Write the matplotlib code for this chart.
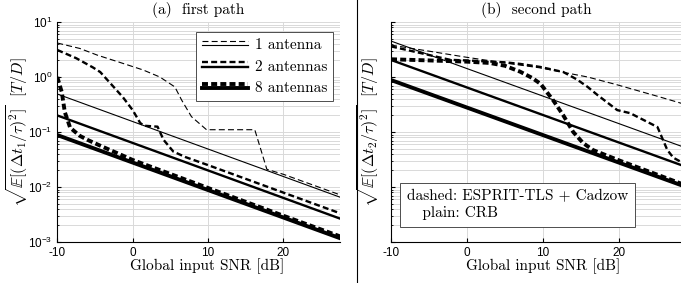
import matplotlib
matplotlib.use('Agg')
import numpy as np
from matplotlib import pyplot as plt
from matplotlib.lines import Line2D
from matplotlib.legend_handler import HandlerBase

plt.rcParams['font.family'] = ['Liberation Sans', 'DejaVu Sans']
plt.rcParams['mathtext.fontset'] = 'cm'
plt.rcParams['axes.unicode_minus'] = False
plt.rcParams['lines.scale_dashes'] = False

# ---- data ----
snr_crb = [-10, 30]

# (a) first path
crb1_a = [0.49, 0.0049]
crb2_a = [0.20, 0.0020]
crb8_a = [0.088, 0.00088]

snr_d1_a = [-10, -7, -4.7, -2, 1.4, 3.6, 5.6, 6.5, 7.8, 9.8, 16.2, 17.8, 20, 25, 30]
esp1_a = [4.15, 3.3, 2.5, 1.9, 1.34, 1.0, 0.66, 0.38, 0.19, 0.11, 0.11, 0.021,
          0.017, 0.0096, 0.0054]
snr_d2_a = [-10, -7.5, -5.3, -4.3, -1.3, 0, 1, 1.5, 3.3, 4.1, 5.4, 7, 10, 20, 30]
esp2_a = [3.1, 2.2, 1.5, 1.23, 0.43, 0.25, 0.146, 0.13, 0.125, 0.072, 0.044,
          0.035, 0.025, 0.0079, 0.0025]
snr_d8_a = [-10, -9.4, -9, -8.6, -8.3, -7, -6, -4, -2, 0, 10, 20, 30]
esp8_a = [1.0, 0.53, 0.23, 0.16, 0.12, 0.085, 0.072, 0.054, 0.041, 0.031,
          0.0096, 0.0030, 0.00095]

# (b) second path
crb1_b = [4.5, 0.045]
crb2_b = [2.04, 0.0204]
crb8_b = [0.88, 0.0088]

snr_d1_b = [-10, -5, -0.2, 5, 9.7, 15.9, 19.8, 25, 27.7, 30]
esp1_b = [3.8, 2.95, 2.3, 1.8, 1.46, 1.0, 0.72, 0.45, 0.35, 0.28]
snr_d2_b = [-10, -6, -2.2, 0, 5, 7, 9.7, 12.7, 14.5, 15.9, 17.2, 19.8, 21.5,
            25.1, 26.4, 27.2, 30]
esp2_b = [3.6, 2.7, 2.05, 2.0, 1.85, 1.73, 1.52, 1.23, 0.9, 0.66, 0.47, 0.25,
          0.22, 0.123, 0.047, 0.034, 0.021]
snr_d8_b = [-10, -5, 0, 3, 5, 7, 8.6, 9.7, 11.4, 12.7, 14, 15.3, 16.6, 20, 25, 30]
esp8_b = [2.1, 2.0, 1.9, 1.8, 1.6, 1.25, 0.96, 0.75, 0.37, 0.2, 0.1, 0.063,
          0.047, 0.0306, 0.0169, 0.0093]

widths = [0.8, 1.7, 2.8]
labels = ['1 antenna', '2 antennas', '8 antennas']
DASH = (4.3, 2.3)
CM = 'cmr10'
FS = 11


class StackHandler(HandlerBase):
    # dashed sample on top, plain sample below
    def create_artists(self, legend, orig_handle, xdescent, ydescent,
                       width, height, fontsize, trans):
        lw = orig_handle
        x = [-xdescent, -xdescent + width]
        top = Line2D(x, [height * 0.62] * 2, color='k', lw=lw, dashes=DASH)
        bot = Line2D(x, [height * 0.28] * 2, color='k', lw=lw)
        top.set_transform(trans)
        bot.set_transform(trans)
        return [top, bot]


def style_axes(ax, xmax):
    ax.set_yscale('log')
    ax.set_xlim(-10, xmax)
    ax.set_ylim(1e-3, 10)
    ax.set_xticks([-10, 0, 10, 20])
    ax.grid(True, which='major', color='0.85', lw=0.7)
    ax.grid(True, which='minor', axis='y', color='0.85', lw=0.7)
    ax.tick_params(which='both', direction='in', labelsize=8.5, length=3)
    ax.tick_params(which='minor', length=1.5)
    for s in ['top', 'right']:
        ax.spines[s].set_visible(False)
    ax.set_axisbelow(True)
    ax.set_xlabel('Global input SNR [dB]', fontfamily=CM, fontsize=FS)


fig = plt.figure(figsize=(6.81, 2.83), dpi=100)
axA = fig.add_axes([0.0841, 0.1449, 0.4151, 0.7774])
axB = fig.add_axes([0.5742, 0.1449, 0.4258, 0.7774])

for ax, xmax, crbs, dashed in [
        (axA, 27.5, [crb1_a, crb2_a, crb8_a],
         [(snr_d1_a, esp1_a), (snr_d2_a, esp2_a), (snr_d8_a, esp8_a)]),
        (axB, 28.2, [crb1_b, crb2_b, crb8_b],
         [(snr_d1_b, esp1_b), (snr_d2_b, esp2_b), (snr_d8_b, esp8_b)])]:
    style_axes(ax, xmax)
    for lw, crb, (sx, sy) in zip(widths, crbs, dashed):
        ax.plot(snr_crb, crb, color='k', lw=lw)
        ax.plot(sx, sy, color='k', lw=lw, dashes=DASH)

axA.set_title('(a)  first path', fontfamily=CM, fontsize=FS, pad=5.5)
axB.set_title('(b)  second path', fontfamily=CM, fontsize=FS, pad=5.5)
axA.set_ylabel(r'$\sqrt{\mathbb{E}[(\Delta t_1/\tau)^2]}\ \ [T/D]$', fontsize=11.5)
axB.set_ylabel(r'$\sqrt{\mathbb{E}[(\Delta t_2/\tau)^2]}\ \ [T/D]$', fontsize=11.5)
axB.tick_params(axis='y', which='both', labelleft=False)
axA.yaxis.set_label_coords(-0.097, 0.5)
axB.yaxis.set_label_coords(-0.036, 0.5)
axA.xaxis.set_label_coords(0.53, -0.075)
axB.xaxis.set_label_coords(0.525, -0.075)

leg = axA.legend(widths, labels, handler_map={float: StackHandler()},
                 loc='upper right', bbox_to_anchor=(0.975, 0.955),
                 prop={'family': CM, 'size': FS}, handlelength=3.0,
                 handleheight=1.0, labelspacing=0.42, handletextpad=0.5,
                 fancybox=False, edgecolor='0.3', framealpha=1,
                 borderpad=0.35, borderaxespad=0)
leg.get_frame().set_linewidth(0.7)

axB.text(0.055, 0.098, 'dashed: ESPRIT-TLS + Cadzow\n   plain: CRB',
         transform=axB.transAxes, fontfamily=CM, fontsize=FS,
         ha='left', va='bottom', linespacing=1.25,
         bbox=dict(boxstyle='square,pad=0.45', fc='white', ec='0.3', lw=0.7))

fig.add_artist(Line2D([357 / 681, 357 / 681], [0, 1], color='k', lw=0.8))

fig.savefig('out.png', dpi=100)
